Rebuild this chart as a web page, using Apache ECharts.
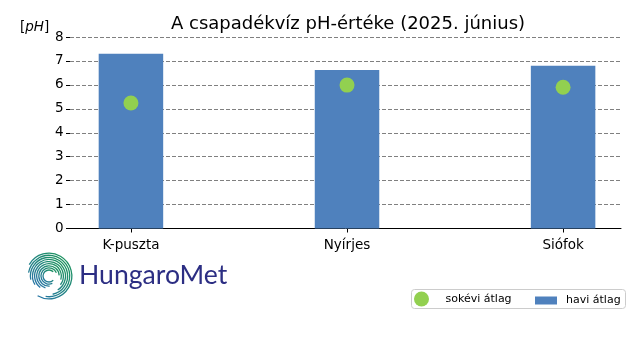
<!DOCTYPE html>
<html>
<head>
<meta charset="utf-8">
<script src="https://cdn.jsdelivr.net/npm/echarts@6/dist/echarts.min.js"></script>
<style>html,body{margin:0;padding:0;background:#fff}#c{width:640px;height:360px}</style>
</head>
<body>
<div id="c"></div>
<script>
const categories = ['K-puszta', 'Nyírjes', 'Siófok'];
const monthlyMean = [7.3, 6.62, 6.8];      // havi átlag
const longTermMean = [5.24, 5.99, 5.9];    // sokévi átlag
const yTicks = [0, 1, 2, 3, 4, 5, 6, 7, 8];

const FONT = 'DejaVu Sans';
const chart = echarts.init(document.getElementById('c'), null, {renderer: 'canvas'});

// logo swirl arcs (decorative)
const arcs = [];
for (let i = 0; i < 9; i++) {
  const r = 6 + i * 2.1;
  const g = (i / 8) * 165; // gap centre in degrees
  arcs.push({
    type: 'arc',
    shape: {cx: 49, cy: 276, r: r, startAngle: (g + 45) * Math.PI / 180, endAngle: (g + 315) * Math.PI / 180, clockwise: true},
    style: {
      fill: null, lineWidth: 1.3,
      stroke: {type: 'linear', x: 1, y: 0, x2: 0, y2: 1, colorStops: [{offset: 0, color: '#1a9a4e'}, {offset: 1, color: '#2a6fb5'}]}
    },
    silent: true
  });
}

chart.setOption({
  animation: false,
  title: {
    text: 'A csapadékvíz pH-értéke (2025. június)',
    left: 343, top: 10, textAlign: 'center',
    textStyle: {fontFamily: FONT, fontSize: 18, fontWeight: 'normal', color: '#000'}
  },
  grid: {left: 70, right: 19, top: 37, bottom: 131.5, containLabel: false},
  xAxis: {
    type: 'value', min: -0.282, max: 2.268,
    axisLine: {show: true, onZero: false, lineStyle: {color: '#000', width: 1}},
    axisTick: {show: true, customValues: [0, 1, 2], length: 4, lineStyle: {color: '#000'}},
    axisLabel: {
      customValues: [0, 1, 2], margin: 10,
      formatter: v => categories[Math.round(v)] || '',
      fontFamily: FONT, fontSize: 13.5, color: '#000'
    },
    splitLine: {show: false}
  },
  yAxis: {
    type: 'value', min: 0, max: 8, interval: 1,
    axisLine: {show: false, onZero: false},
    axisTick: {show: true, length: 4, lineStyle: {color: '#000'}},
    axisLabel: {
      margin: 6.5, fontFamily: FONT, fontSize: 13.5, color: '#000',
      formatter: v => yTicks.includes(v) ? String(v) : ''
    },
    splitLine: {show: true, lineStyle: {color: '#808080', type: [4, 2], width: 1}}
  },
  legend: [
    {
      data: [{name: 'sokévi átlag', icon: 'circle'}],
      left: 414, top: 291.5, itemWidth: 22, itemHeight: 15, padding: 0,
      textStyle: {fontFamily: FONT, fontSize: 11, color: '#000', padding: [0, 0, 0, 8]}
    },
    {
      data: [{name: 'havi átlag', icon: 'rect'}],
      left: 535, top: 295, itemWidth: 22, itemHeight: 8, padding: 0,
      textStyle: {fontFamily: FONT, fontSize: 11, color: '#000', padding: [0, 0, 0, 4]}
    }
  ],
  graphic: [
    {type: 'rect', shape: {x: 411.5, y: 289.5, width: 214, height: 19, r: 3},
     style: {fill: 'rgba(255,255,255,0.8)', stroke: '#cccccc', lineWidth: 1}, z: -1, silent: true},
    {type: 'text', left: 20, top: 20,
     style: {text: '[{i|pH}]', fontFamily: FONT, fontSize: 13.5, fill: '#000',
             rich: {i: {fontFamily: FONT, fontStyle: 'italic', fontSize: 13.5, fill: '#000'}}}, silent: true},
    {type: 'text', left: 79, top: 262,
     style: {text: 'HungaroMet', fontFamily: 'Lato', fontWeight: 400, fontSize: 26.6, fill: '#2c2e83'}, silent: true}
  ].concat(arcs),
  series: [
    {
      name: 'havi átlag', type: 'bar', barWidth: 64.5,
      itemStyle: {color: '#4f81bd'},
      data: monthlyMean.map((v, i) => [i, v]), z: 2
    },
    {
      name: 'sokévi átlag', type: 'scatter', symbol: 'circle', symbolSize: 15,
      itemStyle: {color: '#92d050', opacity: 1},
      data: longTermMean.map((v, i) => [i, v]), z: 3
    }
  ]
});
</script>
</body>
</html>
